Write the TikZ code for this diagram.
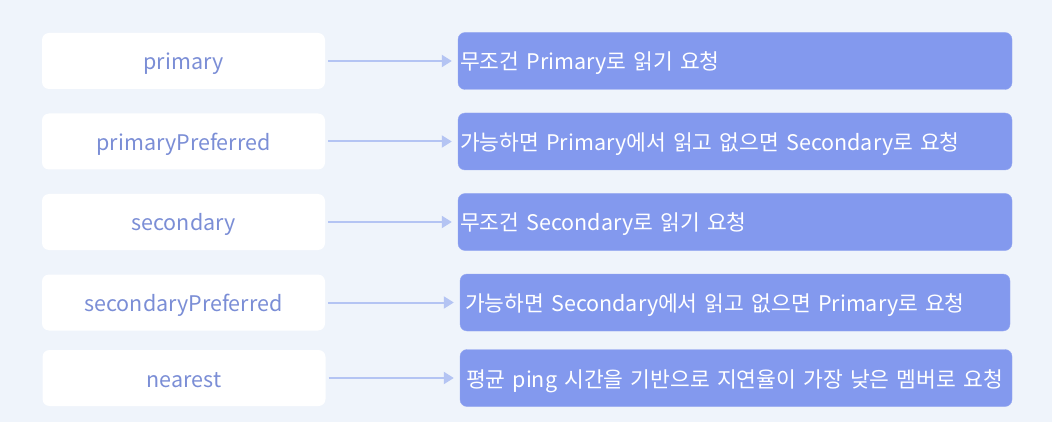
\documentclass[tikz,border=0pt]{standalone}
\usepackage{fontspec}
\setmainfont{Noto Sans CJK KR}
\usepackage{tikz}
\usetikzlibrary{arrows.meta}
\usetikzlibrary{positioning}
\definecolor{pageBg}{HTML}{EFF4FB}
\definecolor{modeText}{HTML}{7B8ED6}
\definecolor{descFill}{HTML}{8399EE}
\definecolor{arrowBlue}{HTML}{B4C4F3}

\begin{document}
\begin{tikzpicture}[x=1pt,y=-1pt]
\tikzset{ModeBox/.style={
  fill=white,
  rectangle,
  rounded corners=7pt,
  minimum width=283pt,
  minimum height=56pt,
  text height=22pt,
  text depth=4pt,
  text=modeText,
  font=\fontsize{21.5}{25}\selectfont,
}}
\tikzset{DescBox/.style={
  fill=descFill,
  draw=descFill!85!white,
  rectangle,
  rounded corners=7pt,
  minimum width=554pt,
  minimum height=57pt,
  inner xsep=2pt,
  text width=550pt,
  text height=22pt,
  text depth=4pt,
  align=left,
  text=white,
  font=\fontsize{21.5}{25}\selectfont,
}}
\tikzset{ReadArrow/.style={
  draw=arrowBlue,
  line width=2pt,
  shorten <=3pt,
  shorten >=6pt,
  -{Triangle[length=10pt,width=12pt]},
}}

\fill[pageBg] (0,0) rectangle (1052,422);
\useasboundingbox (0,0) rectangle (1052,422);

\node[ModeBox] (primary) at (183.5,61) {primary};
\node[ModeBox] (primaryPref) at (183.5,141.5) {primaryPreferred};
\node[ModeBox] (secondary) at (183.5,222) {secondary};
\node[ModeBox] (secondaryPref) at (183.5,302.5) {secondaryPreferred};
\node[ModeBox] (nearest) at (184,378) {nearest};

\node[DescBox] (primaryDesc) at (735,61) {무조건 Primary로 읽기 요청};
\node[DescBox] (primaryPrefDesc) at (735,141.5) {가능하면 Primary에서 읽고 없으면 Secondary로 요청};
\node[DescBox] (secondaryDesc) at (735,222) {무조건 Secondary로 읽기 요청};
\node[DescBox, inner xsep=5pt, text width=540pt, minimum width=550pt] (secondaryPrefDesc) at (735,302.5) {가능하면 Secondary에서 읽고 없으면 Primary로 요청};
\node[DescBox, inner xsep=6pt, text width=540pt, minimum width=552pt] (nearestDesc) at (736,378) {평균 ping 시간을 기반으로 지연율이 가장 낮은 멤버로 요청};

\draw[ReadArrow] (primary.east) -- (primaryDesc.west);
\draw[ReadArrow] (primaryPref.east) -- (primaryPrefDesc.west);
\draw[ReadArrow] (secondary.east) -- (secondaryDesc.west);
\draw[ReadArrow] (secondaryPref.east) -- (secondaryPrefDesc.west);
\draw[ReadArrow] (nearest.east) -- (nearestDesc.west);
\end{tikzpicture}
\end{document}
